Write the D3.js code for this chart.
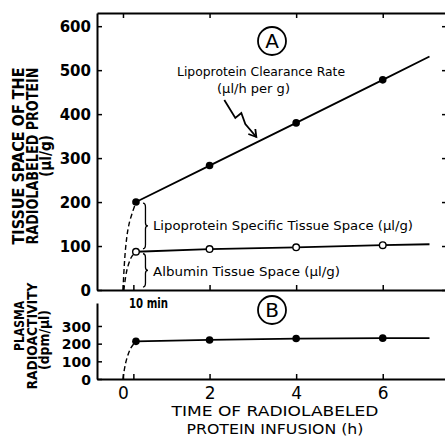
<!DOCTYPE html>
<html>
<head>
<meta charset="utf-8">
<script src="https://cdn.jsdelivr.net/npm/d3@7"></script>
<style>
  body { margin: 0; background: #fff; }
  svg { display: block; }
  text { font-family: "DejaVu Sans", sans-serif; fill: #000; }
</style>
</head>
<body>
<svg id="chart" width="445" height="436"></svg>
<script>
// measured points (time in h, 10 min point drawn at ~0.3 h as in the figure)
var hours = [0.3, 2, 4, 6, 7.08];
var clearance = [200, 283, 380, 478, 531];
var albumin = [87, 93, 97, 102, 104];
var plasma = [213, 221, 229, 231, 231];
var markerCount = 4; // last entry of each series is just the line end

// dashed rise from the start of infusion
var clearanceRise = [[0, 0], [0.06, 95], [0.14, 150], [0.3, 200]];
var albuminRise = [[0.02, 0], [0.09, 45], [0.19, 74], [0.27, 84]];
var plasmaRise = [[0, 0], [0.06, 89], [0.17, 170], [0.29, 212]];

var xTicks = [0, 0.24, 2, 4, 6];
var xTickLabels = ["0", "", "2", "4", "6"];
var yTicksA = [0, 100, 200, 300, 400, 500, 600];
var yTicksB = [0, 100, 200, 300];

var svg = d3.select("#chart");

var x = d3.scaleLinear().domain([-0.6, 7.6]).range([97, 452]);
var yA = d3.scaleLinear().domain([0, 630]).range([290, 13]);
var yB = d3.scaleLinear().domain([0, 430]).range([379, 303]);

function styleAxis(g, w) {
    g.selectAll(".domain").attr("stroke", "#000").attr("stroke-width", w || 2);
    g.selectAll(".tick line").attr("stroke", "#000").attr("stroke-width", 1.5);
    g.selectAll("text").attr("font-family", null);
}

// ---- panel A frame ----
var leftA = svg.append("g").attr("transform", "translate(97,0)")
    .call(d3.axisLeft(yA).tickValues(yTicksA).tickSizeInner(-5).tickSizeOuter(0).tickPadding(6));
styleAxis(leftA);
leftA.selectAll("text").attr("font-size", 15).attr("font-weight", "bold").attr("dy", "0.36em");

var bottomA = svg.append("g").attr("transform", "translate(0,290)")
    .call(d3.axisBottom(x).tickValues(xTicks).tickSizeInner(-5).tickSizeOuter(0).tickFormat(""));
styleAxis(bottomA);

var topA = svg.append("g").attr("transform", "translate(0,13)")
    .call(d3.axisTop(x).tickValues([0, 2, 4, 6]).tickSizeInner(-5).tickSizeOuter(0).tickFormat(""));
styleAxis(topA);

var rightA = svg.append("g").attr("transform", "translate(447,0)")
    .call(d3.axisRight(yA).tickValues(yTicksA).tickSizeInner(-5).tickSizeOuter(0).tickFormat(""));
styleAxis(rightA);

// ---- panel B frame ----
var leftB = svg.append("g").attr("transform", "translate(97,0)")
    .call(d3.axisLeft(yB).tickValues(yTicksB).tickSizeInner(-5).tickSizeOuter(0).tickPadding(6));
styleAxis(leftB);
leftB.selectAll("text").attr("font-size", 14).attr("font-weight", "bold").attr("dy", "0.36em");

var bottomB = svg.append("g").attr("transform", "translate(0,379)")
    .call(d3.axisBottom(x).tickValues(xTicks).tickSizeInner(-5).tickSizeOuter(0)
        .tickFormat(function(d, i) { return xTickLabels[i]; }).tickPadding(8));
styleAxis(bottomB);
bottomB.selectAll("text").attr("font-size", 17).attr("dy", "0.71em");

// ---- lines ----
var line = d3.line().x(function(d) { return x(d[0]); });
var rise = d3.line().x(function(d) { return x(d[0]); }).curve(d3.curveCatmullRom);

function series(vals) { return hours.map(function(h, i) { return [h, vals[i]]; }); }

svg.append("path").datum(series(clearance))
    .attr("d", line.y(function(d) { return yA(d[1]); }))
    .attr("fill", "none").attr("stroke", "#000").attr("stroke-width", 1.8);
svg.append("path").datum(series(albumin))
    .attr("d", line.y(function(d) { return yA(d[1]); }))
    .attr("fill", "none").attr("stroke", "#000").attr("stroke-width", 1.8);
svg.append("path").datum(series(plasma))
    .attr("d", line.y(function(d) { return yB(d[1]); }))
    .attr("fill", "none").attr("stroke", "#000").attr("stroke-width", 1.8);

[[clearanceRise, yA], [albuminRise, yA], [plasmaRise, yB]].forEach(function(r) {
    svg.append("path").datum(r[0])
        .attr("d", rise.y(function(d) { return r[1](d[1]); }))
        .attr("fill", "none").attr("stroke", "#000").attr("stroke-width", 1.4)
        .attr("stroke-dasharray", "5,3");
});

// ---- markers ----
svg.selectAll(".dotA").data(series(clearance).slice(0, markerCount)).enter()
    .append("circle").attr("class", "dotA")
    .attr("cx", function(d) { return x(d[0]); }).attr("cy", function(d) { return yA(d[1]); })
    .attr("r", 3.8).attr("fill", "#000");
svg.selectAll(".dotAlb").data(series(albumin).slice(0, markerCount)).enter()
    .append("circle").attr("class", "dotAlb")
    .attr("cx", function(d) { return x(d[0]); }).attr("cy", function(d) { return yA(d[1]); })
    .attr("r", 3.3).attr("fill", "#fff").attr("stroke", "#000").attr("stroke-width", 1.4);
svg.selectAll(".dotB").data(series(plasma).slice(0, markerCount)).enter()
    .append("circle").attr("class", "dotB")
    .attr("cx", function(d) { return x(d[0]); }).attr("cy", function(d) { return yB(d[1]); })
    .attr("r", 3.8).attr("fill", "#000");

// ---- braces ----
function brace(bx, y1, y2, w) {
    var m = (y1 + y2) / 2, h = w / 2;
    return "M" + bx + "," + y1 + " Q" + (bx + h) + "," + y1 + " " + (bx + h) + "," + (y1 + 4) +
        " L" + (bx + h) + "," + (m - 3) + " Q" + (bx + h) + "," + m + " " + (bx + w) + "," + m +
        " Q" + (bx + h) + "," + m + " " + (bx + h) + "," + (m + 3) +
        " L" + (bx + h) + "," + (y2 - 4) + " Q" + (bx + h) + "," + y2 + " " + bx + "," + y2;
}
var bx = x(hours[0]) + 7;
svg.append("path").attr("d", brace(bx, yA(clearance[0]) + 1, yA(albumin[0]) - 3, 5))
    .attr("fill", "none").attr("stroke", "#000").attr("stroke-width", 1.3);
svg.append("path").attr("d", brace(bx, yA(albumin[0]) + 2, yA(0) - 3, 5))
    .attr("fill", "none").attr("stroke", "#000").attr("stroke-width", 1.3);

// ---- squiggle arrow toward the clearance line ----
var tipX = x(3.08), tipY = yA(348);
svg.append("path")
    .attr("d", "M" + (tipX - 32) + "," + (tipY - 37) + " L" + (tipX - 21) + "," + (tipY - 19) +
        " L" + (tipX - 15) + "," + (tipY - 24) + " L" + (tipX - 11) + "," + (tipY - 13) + " L" + tipX + "," + tipY)
    .attr("fill", "none").attr("stroke", "#000").attr("stroke-width", 1.8);
svg.append("path")
    .attr("d", "M" + (tipX - 8) + "," + (tipY - 3) + " L" + tipX + "," + tipY + " L" + (tipX - 1) + "," + (tipY - 8))
    .attr("fill", "none").attr("stroke", "#000").attr("stroke-width", 1.8);

// ---- annotations ----
function label(txt, tx, ty, size, len, weight, anchor) {
    var t = svg.append("text").attr("x", tx).attr("y", ty).attr("font-size", size)
        .attr("text-anchor", anchor || "start").text(txt);
    if (weight) t.attr("font-weight", weight);
    if (len) t.attr("textLength", len).attr("lengthAdjust", "spacingAndGlyphs");
    return t;
}
label("Lipoprotein Clearance Rate", 177, 76, 13, 168);
label("(\u00b5l/h per g)", 217, 93, 13, 73);
label("Lipoprotein Specific Tissue Space (\u00b5l/g)", 153, 230, 13, 260);
label("Albumin Tissue Space (\u00b5l/g)", 153, 276, 13, 187);
label("10 min", 129, 307.5, 13.5, 39, "bold");

// circled panel letters
[["A", 41], ["B", 310]].forEach(function(p) {
    svg.append("circle").attr("cx", 272).attr("cy", p[1]).attr("r", 14)
        .attr("fill", "none").attr("stroke", "#000").attr("stroke-width", 1.8);
    label(p[0], 272, p[1] + 7, 20, null, null, "middle");
});

// axis titles
function vtitle(txt, tx, cy, size, len) {
    svg.append("text").attr("transform", "translate(" + tx + "," + cy + ") rotate(-90)")
        .attr("text-anchor", "middle").attr("font-size", size).attr("font-weight", "bold")
        .attr("textLength", len).attr("lengthAdjust", "spacingAndGlyphs").text(txt);
}
vtitle("TISSUE SPACE OF THE", 24, 156, 15, 177);
vtitle("RADIOLABELED PROTEIN", 37.5, 156, 15, 177);
vtitle("(\u00b5l/g)", 51, 156, 15, 42);
vtitle("PLASMA", 24, 326, 13.5, 50);
vtitle("RADIOACTIVITY", 36.5, 336, 13.5, 107);
vtitle("(dpm/\u00b5l)", 49, 340, 13.5, 60);

label("TIME OF RADIOLABELED", 275, 416, 14.5, 207, null, "middle");
label("PROTEIN INFUSION (h)", 275, 433.5, 14.5, 177, null, "middle");
</script>
</body>
</html>
